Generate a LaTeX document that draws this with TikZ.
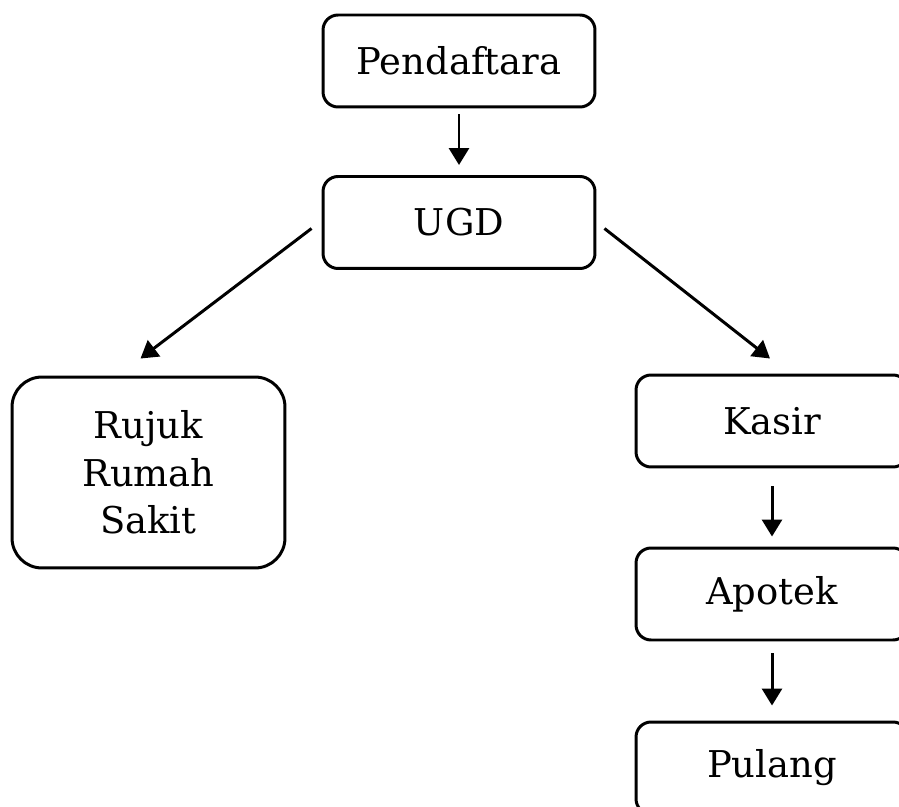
\documentclass[tikz,border=0pt]{standalone}
\usepackage{fontspec}
\setmainfont{DejaVu Serif}
\usetikzlibrary{arrows.meta,calc}
\begin{document}
\begin{tikzpicture}[x=0.02cm,y=-0.02cm,
  box/.style={draw,line width=1.7pt,rounded corners=0.3cm,minimum width=5.44cm,minimum height=1.84cm,inner sep=0pt,font=\fontsize{21}{27}\selectfont,align=center},
  bigbox/.style={box,rounded corners=0.6cm,minimum height=3.82cm,minimum width=5.46cm},
  arr/.style={line width=1.7pt,-{Triangle[length=0.34cm,width=0.4cm]}}]
\useasboundingbox[clip] (0,0) rectangle (899,807);
\fill[white] (0,0) rectangle (899,807);
\node[box] (pend) at (459,61) {Pendaftara};
\node[box] (ugd) at (459,222.5) {UGD};
\node[bigbox] (rujuk) at (148.5,472.5) {Rujuk\\Rumah\\Sakit};
\node[box] (kasir) at (772,421) {Kasir};
\node[box] (apotek) at (772,594) {Apotek};
\node[box] (pulang) at (772,768) {Pulang};
\draw[arr] ($(pend.south)+(0,6)$) -- ($(ugd.north)+(0,-10)$);
\draw[arr] ($(ugd.west)+(-10,6)$) -- ($(rujuk.north)+(-8,-17)$);
\draw[arr] ($(ugd.east)+(8,6)$) -- ($(kasir.north)+(-2,-15)$);
\draw[arr] ($(kasir.south)+(0,18)$) -- ($(apotek.north)+(0,-10)$);
\draw[arr] ($(apotek.south)+(0,12)$) -- ($(pulang.north)+(0,-15)$);
\end{tikzpicture}
\end{document}
